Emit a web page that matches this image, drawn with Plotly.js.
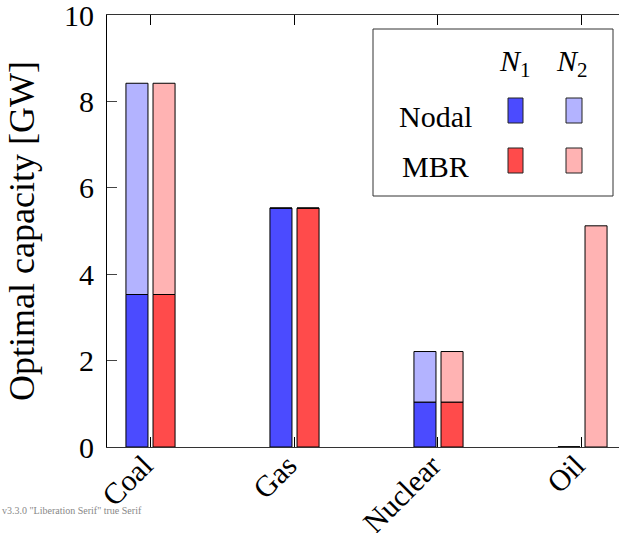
<!DOCTYPE html>
<html>
<head>
<meta charset="utf-8">
<script src="https://cdn.plot.ly/plotly-3.0.1.min.js"></script>
<style>
#chart text, #chart tspan { font-family: 'Liberation Serif' !important; }
</style>
</head>
<body style="margin:0">
<div id="chart" style="width:619px;height:533px"></div>
<div id="dbg" style="position:absolute;left:2px;top:505px;font-size:10px;color:#888;font-family:'Liberation Serif';white-space:pre"></div>
<script>
// ---- data ----
const categories = ['Coal', 'Gas', 'Nuclear', 'Oil'];
const nodalN1 = [3.53, 5.53, 1.04, 0];
const nodalN2 = [4.89, 0, 1.17, 0];
const mbrN1 = [3.53, 5.53, 1.04, 0];
const mbrN2 = [4.89, 0, 1.17, 5.12];
const yTicks = [0, 2, 4, 6, 8, 10];
const legendCols = ['<i>N</i><sub>1</sub>', '<i>N</i><sub>2</sub>'];
const legendRows = ['Nodal', 'MBR'];

// ---- style ----
const C = {
  nodalN1: '#4b4bff', nodalN2: '#b3b3ff',
  mbrN1: '#ff4b4b', mbrN2: '#ffb3b3'
};
const FONT = 'Liberation Serif';
const FS = 30;
const W = 619, H = 533;
const M = {l: 107, r: 0, t: 15, b: 86};
const BW = 0.153, OFF_N = -0.167, OFF_M = 0.021;
const line = {color: '#000', width: 1};

function bar(name, y, base, off, color) {
  return {
    type: 'bar', name: name, x: categories, y: y, base: base,
    offset: off, width: BW,
    marker: {color: color, line: line},
    showlegend: false, hoverinfo: 'y'
  };
}
const traces = [
  bar('Nodal N1', nodalN1, categories.map(() => 0), OFF_N, C.nodalN1),
  bar('Nodal N2', nodalN2, nodalN1, OFF_N, C.nodalN2),
  bar('MBR N1', mbrN1, categories.map(() => 0), OFF_M, C.mbrN1),
  bar('MBR N2', mbrN2, mbrN1, OFF_M, C.mbrN2)
];

const PW = W - M.l - M.r, PH = H - M.t - M.b;
const px = x => (x - M.l) / PW;
const py = y => (H - M.b - y) / PH;

const shapes = [
  {type: 'rect', xref: 'paper', yref: 'paper', x0: px(373), x1: px(613), y0: py(196), y1: py(29),
   line: {color: '#333', width: 1}, fillcolor: '#fff', layer: 'above'}
];
const sqX = [[508, 523], [566, 582]];
const sqY = [[98, 123], [148, 173]];
const sqC = [[C.nodalN1, C.nodalN2], [C.mbrN1, C.mbrN2]];
for (let r = 0; r < 2; r++) for (let c = 0; c < 2; c++) {
  shapes.push({type: 'rect', xref: 'paper', yref: 'paper',
    x0: px(sqX[c][0]), x1: px(sqX[c][1]), y0: py(sqY[r][1]), y1: py(sqY[r][0]),
    fillcolor: sqC[r][c], line: {color: '#222', width: 1}, layer: 'above'});
}
const annotations = [];
const colX = [515, 572];
legendCols.forEach((t, i) => annotations.push({xref: 'paper', yref: 'paper', x: px(colX[i]), y: py(63),
  text: t, showarrow: false, xanchor: 'center', yanchor: 'middle'}));
const rowY = [116, 166];
legendRows.forEach((t, i) => annotations.push({xref: 'paper', yref: 'paper', x: px(435), y: py(rowY[i]),
  text: t, showarrow: false, xanchor: 'center', yanchor: 'middle'}));

const layout = {
  width: W, height: H, margin: M,
  paper_bgcolor: '#fff', plot_bgcolor: '#fff',
  barmode: 'overlay',
  font: {family: FONT, size: FS, color: '#000'},
  xaxis: {
    type: 'category', range: [-0.2986, 3.257],
    showline: true, linecolor: '#333', linewidth: 1, mirror: 'ticks',
    ticks: 'inside', ticklen: 10, tickcolor: '#000', tickwidth: 1,
    tickangle: -45, showgrid: false, zeroline: false,
    ticklabelstandoff: -12, ticklabelshift: -6
  },
  yaxis: {
    range: [0, 10], tickvals: yTicks, ticktext: yTicks.map(String),
    showline: true, linecolor: '#000', linewidth: 1,
    ticks: 'inside', ticklen: 10, tickcolor: '#444', tickwidth: 1,
    ticklabelstandoff: 6, ticklabeloverflow: 'allow',
    showgrid: false, zeroline: false,
    title: {text: 'Optimal capacity [GW]', standoff: 18}
  },
  shapes: shapes,
  annotations: annotations
};
Plotly.newPlot('chart', traces, layout, {displayModeBar: false, staticPlot: true}).then(() => {
  const t = document.querySelector('#chart .ytick text');
  document.getElementById('dbg').textContent = 'v' + Plotly.version + ' ' + getComputedStyle(t).fontFamily + ' ' +
    document.fonts.check('30px "Liberation Serif"') + ' Serif';
});
</script>
</body>
</html>
